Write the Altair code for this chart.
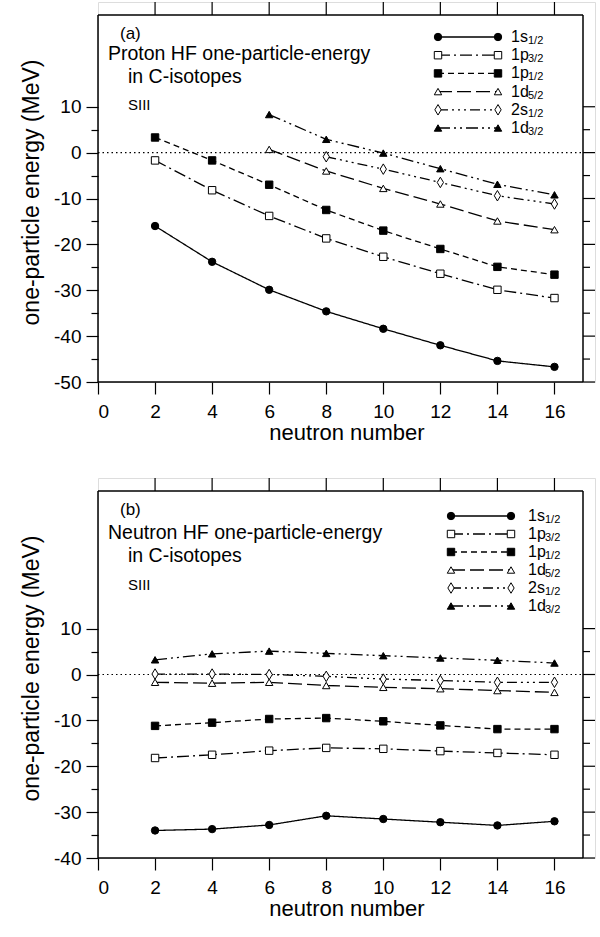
import altair as alt
import pandas as pd

FONT = "Liberation Sans"

neutron_number = [2, 4, 6, 8, 10, 12, 14, 16]
orbital = ["1s", "1p", "1p", "1d", "2s", "1d"]
j_label = ["1/2", "3/2", "1/2", "5/2", "1/2", "3/2"]
series = [o + j for o, j in zip(orbital, j_label)]

# (a) proton HF one-particle energies (MeV); None = level not shown
p_1s12 = [-16.0, -23.8, -29.9, -34.6, -38.4, -42.0, -45.4, -46.7]
p_1p32 = [-1.7, -8.2, -13.8, -18.7, -22.7, -26.4, -29.9, -31.7]
p_1p12 = [3.3, -1.7, -7.0, -12.5, -17.0, -21.0, -24.9, -26.6]
p_1d52 = [None, None, 0.7, -4.0, -7.8, -11.2, -14.9, -16.8]
p_2s12 = [None, None, None, -0.9, -3.6, -6.5, -9.4, -11.2]
p_1d32 = [None, None, 8.3, 2.9, -0.1, -3.5, -6.9, -9.2]

# (b) neutron HF one-particle energies (MeV)
n_1s12 = [-34.0, -33.7, -32.8, -30.8, -31.5, -32.2, -32.9, -32.0]
n_1p32 = [-18.2, -17.5, -16.6, -16.0, -16.2, -16.7, -17.1, -17.5]
n_1p12 = [-11.2, -10.5, -9.7, -9.5, -10.2, -11.1, -11.9, -11.9]
n_1d52 = [-1.7, -1.9, -1.7, -2.4, -2.8, -3.1, -3.5, -3.9]
n_2s12 = [0.1, 0.1, 0.0, -0.4, -1.0, -1.3, -1.7, -1.7]
n_1d32 = [3.2, 4.5, 5.1, 4.6, 4.1, 3.6, 3.1, 2.5]

x_range = [0, 17]
y_range_a = [-50, 30]
y_range_b = [-40, 40]
x_ticks = [0, 2, 4, 6, 8, 10, 12, 14, 16]
y_ticks_a = [-50, -45, -40, -35, -30, -25, -20, -15, -10, -5, 0, 5, 10]
y_ticks_b = [-40, -35, -30, -25, -20, -15, -10, -5, 0, 5, 10]

title_a = ["(a)", "Proton HF one-particle-energy", "in C-isotopes", "SIII"]
title_b = ["(b)", "Neutron HF one-particle-energy", "in C-isotopes", "SIII"]

# frame size in px, plus room kept inside the view for the outward top/right ticks
W, H = 485, 367
TOP, RIGHT = 13, 12
MAJOR, MINOR = 12, 7


def long_df(cols):
    rows = []
    for name, vals in zip(series, cols):
        for n, v in zip(neutron_number, vals):
            if v is not None:
                rows.append({"N": n, "E": v, "s": name})
    return pd.DataFrame(rows)


legend_df = pd.DataFrame({"s": series, "orb": orbital, "j": j_label,
                          "i": list(range(len(series)))})

dash_scale = alt.Scale(domain=series, range=[[1, 0], [12, 4, 2, 4], [6, 4], [14, 5],
                                             [10, 4, 2, 4, 2, 4, 2, 4], [12, 4, 2, 4, 2, 4]])
shape_scale = alt.Scale(domain=series, range=["circle", "square", "square", "triangle-up",
                                              "M0,-1L0.6,0L0,1L-0.6,0Z", "triangle-up"])
fill_scale = alt.Scale(domain=series, range=["black", "white", "black", "white", "white", "black"])

major_minor = {"condition": {"test": "datum.value % 10 === 0", "value": MAJOR}, "value": MINOR}

common_axis = dict(domain=False, tickColor="black", tickWidth=1.2,
                   labelColor="black", titleColor="black", labelFont=FONT, titleFont=FONT,
                   titleFontWeight="normal", grid=False)


def panel(df, yr, yticks, texts, tpos, leg):
    x0, x1r = x_range
    y0r, y1r = yr
    ux = (x1r - x0) / W          # data units per px
    uy = (y1r - y0r) / H
    xext = x1r + RIGHT * ux
    yext = y1r + TOP * uy
    xs = alt.Scale(domain=[x0, xext], nice=False, zero=False)
    ys = alt.Scale(domain=[y0r, yext], nice=False, zero=False)
    bottom_axis = alt.Axis(values=x_ticks, tickSize=12, labelFontSize=19, labelPadding=8,
                           title="neutron number", titleFontSize=22, titlePadding=1,
                           **common_axis)
    left_axis = alt.Axis(values=yticks, tickSize=major_minor, labelFontSize=19, labelPadding=5,
                         labelExpr="datum.value % 10 === 0 ? '' + datum.value : ''",
                         title="one-particle energy (MeV)", titleFontSize=23, titlePadding=10,
                         **common_axis)

    base = alt.Chart(df)
    lines = base.mark_line(color="black", strokeWidth=1.3).encode(
        x=alt.X("N:Q", scale=xs, axis=bottom_axis),
        y=alt.Y("E:Q", scale=ys, axis=left_axis),
        detail="s:N",
        strokeDash=alt.StrokeDash("s:N", scale=dash_scale, legend=None),
    )
    pts = base.mark_point(filled=True, stroke="black", strokeWidth=1, opacity=1).encode(
        x=alt.X("N:Q", scale=xs, axis=None),
        y=alt.Y("E:Q", scale=ys, axis=None),
        shape=alt.Shape("s:N", scale=shape_scale, legend=None),
        fill=alt.Fill("s:N", scale=fill_scale, legend=None),
        size=alt.condition(alt.datum.s == "2s1/2", alt.value(110), alt.value(55)),
    )
    one = pd.DataFrame({"k": [0]})
    zero = alt.Chart(one).mark_rule(color="black", strokeWidth=1.2, strokeDash=[1.5, 3]).encode(
        x=alt.X(datum=x0, scale=xs, axis=None), x2=alt.X2(datum=x1r),
        y=alt.Y(datum=0, scale=ys, axis=None))

    # frame box
    fr = alt.Chart(one).mark_rule(color="black", strokeWidth=1.5)
    frame = [
        fr.encode(x=alt.X(datum=x0, scale=xs, axis=None), x2=alt.X2(datum=x1r),
                  y=alt.Y(datum=y0r, scale=ys, axis=None)),
        fr.encode(x=alt.X(datum=x0, scale=xs, axis=None), x2=alt.X2(datum=x1r),
                  y=alt.Y(datum=y1r, scale=ys, axis=None)),
        fr.encode(y=alt.Y(datum=y0r, scale=ys, axis=None), y2=alt.Y2(datum=y1r),
                  x=alt.X(datum=x0, scale=xs, axis=None)),
        fr.encode(y=alt.Y(datum=y0r, scale=ys, axis=None), y2=alt.Y2(datum=y1r),
                  x=alt.X(datum=x1r, scale=xs, axis=None)),
    ]

    # outward ticks on the top and right sides of the frame (one rule per tick value)
    tk = alt.Chart(one).mark_rule(color="black", strokeWidth=1.2)
    ticks = []
    for t in x_ticks[1:]:
        ticks.append(tk.encode(x=alt.X(datum=t, scale=xs, axis=None),
                               y=alt.Y(datum=y1r, scale=ys, axis=None), y2=alt.Y2(datum=yext)))
    for t in yticks:
        ln = MAJOR if t % 10 == 0 else MINOR
        ticks.append(tk.encode(y=alt.Y(datum=t, scale=ys, axis=None),
                               x=alt.X(datum=x1r, scale=xs, axis=None),
                               x2=alt.X2(datum=x1r + ln * ux)))

    layers = [lines, zero, pts] + frame + ticks

    # annotation texts
    sizes = [17, 19.5, 19.5, 15]
    for t, (tx, ty), fs in zip(texts, tpos, sizes):
        layers.append(alt.Chart(one).mark_text(text=t, font=FONT, fontSize=fs, align="left",
                                               baseline="middle", color="black").encode(
            x=alt.value(tx), y=alt.value(ty + TOP)))

    # custom legend
    lx1, lx2, xl, ly0, step = leg
    lb = alt.Chart(legend_df).transform_calculate(ly=f"{ly0 + TOP} + {step} * datum.i")
    ly = alt.Y("ly:Q", scale=None, axis=None)
    layers.append(lb.mark_rule(color="black", strokeWidth=1.3).encode(
        x=alt.value(lx1), x2=alt.value(lx2), y=ly,
        strokeDash=alt.StrokeDash("s:N", scale=dash_scale, legend=None)))
    for xx in (lx1, lx2):
        layers.append(lb.mark_point(filled=True, stroke="black", strokeWidth=1, opacity=1).encode(
            x=alt.value(xx), y=ly,
            shape=alt.Shape("s:N", scale=shape_scale, legend=None),
            fill=alt.Fill("s:N", scale=fill_scale, legend=None),
            size=alt.condition(alt.datum.s == "2s1/2", alt.value(110), alt.value(55))))
    layers.append(lb.mark_text(font=FONT, fontSize=16, align="left", baseline="middle",
                               color="black").encode(x=alt.value(xl), y=ly, text="orb:N"))
    layers.append(lb.mark_text(font=FONT, fontSize=11, align="left", baseline="middle",
                               color="black", dy=4).encode(x=alt.value(xl + 17), y=ly,
                                                            text="j:N"))

    return alt.layer(*layers).resolve_axis(x="independent", y="independent").properties(
        width=W + RIGHT, height=H + TOP)


pa = panel(long_df([p_1s12, p_1p32, p_1p12, p_1d52, p_2s12, p_1d32]), y_range_a, y_ticks_a,
           title_a, [(22, 19), (10, 39), (30, 62), (30, 90)], (340, 400, 413, 22, 18.2))
pb = panel(long_df([n_1s12, n_1p32, n_1p12, n_1d52, n_2s12, n_1d32]), y_range_b, y_ticks_b,
           title_b, [(22, 19), (10, 42), (30, 65), (30, 94)], (353, 413, 430, 25, 18))

chart = alt.vconcat(pa, pb, spacing=32).properties(
    padding={"left": 20, "top": 0, "right": 0, "bottom": 0}
).configure_view(strokeWidth=0).configure(font=FONT, background="white")

chart.save("out.html", embed_options={"renderer": "svg", "actions": False})
